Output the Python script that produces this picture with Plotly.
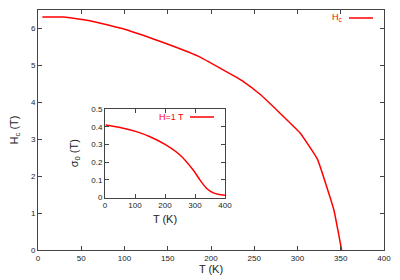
import plotly.graph_objects as go

# Main curve: critical field Hc vs T
T_main = [5, 30, 60, 100, 140, 185, 237, 257, 303, 323, 342, 351]
Hc = [6.31, 6.31, 6.21, 5.98, 5.66, 5.25, 4.57, 4.21, 3.17, 2.46, 1.09, 0.0]

# Inset: sigma_0 vs T at H = 1 T
T_in = [2, 50, 105, 150, 200, 250, 294, 317, 339, 361, 380, 400]
sig = [0.41, 0.396, 0.372, 0.343, 0.30, 0.24, 0.155, 0.098, 0.051, 0.026, 0.017, 0.013]

main_ticks_x = [0, 50, 100, 150, 200, 250, 300, 350, 400]
main_ticks_y = [0, 1, 2, 3, 4, 5, 6]
inset_ticks_x = [0, 100, 200, 300, 400]
inset_ticks_y = [0, 0.1, 0.2, 0.3, 0.4, 0.5]
inset_ticks_y_text = ["0", "0.1", "0.2", "0.3", "0.4", "0.5"]

RED = "#ff0000"
AX = "#444444"
FONT = "Liberation Sans"

fig = go.Figure()
fig.add_trace(go.Scatter(x=T_main, y=Hc, mode="lines", line=dict(color=RED, width=1.5, shape="spline", smoothing=0.3),
                         xaxis="x", yaxis="y", showlegend=False))
fig.add_trace(go.Scatter(x=T_in, y=sig, mode="lines", line=dict(color=RED, width=1.5, shape="spline", smoothing=0.8),
                         xaxis="x2", yaxis="y2", showlegend=False))

axcommon = dict(showline=True, linecolor=AX, linewidth=1, mirror="allticks", ticks="inside",
                ticklen=4, tickcolor=AX, showgrid=False, zeroline=False, automargin=False,
                tickfont=dict(family=FONT, size=8, color="#222222"))

# page body has an 8px margin: compensate
OFF = 8
x0, x1 = 38, 384
y0, y1 = 250, 10
W, H = 400 - OFF, 280 - OFF
ml, mr, mt, mb = x0 - OFF, 400 - x1, y1 - OFF, 280 - y0
pw, ph = x1 - x0, y0 - y1

ix0, ix1, iy_top, iy_bot = 105, 225, 109, 197.5
dx = [(ix0 - x0) / pw, (ix1 - x0) / pw]
dy = [(y0 - iy_bot) / ph, (y0 - iy_top) / ph]

fig.update_layout(
    width=W, height=H,
    margin=dict(l=ml, r=mr, t=mt, b=mb),
    paper_bgcolor="white", plot_bgcolor="white",
    font=dict(family=FONT, color="#222222"),
    xaxis=dict(range=[0, 400], tickvals=main_ticks_x,
               title=dict(text="T (K)", font=dict(size=11), standoff=3), **axcommon),
    yaxis=dict(range=[0, 6.5], tickvals=main_ticks_y,
               title=dict(text="H<sub>c</sub> (T)", font=dict(size=11), standoff=12), **axcommon),
    xaxis2=dict(domain=dx, anchor="y2", range=[0, 400], tickvals=inset_ticks_x,
                title=dict(text="T (K)", font=dict(size=11), standoff=6), **axcommon),
    yaxis2=dict(domain=dy, anchor="x2", range=[0, 0.5], tickvals=inset_ticks_y,
                ticktext=inset_ticks_y_text,
                title=dict(text="σ<sub>0</sub> (T)", font=dict(size=11), standoff=10), **axcommon),
    showlegend=False,
)

# gnuplot-style keys: text then line sample
fig.add_annotation(x=(344 - x0) / pw, y=(y0 - 18) / ph, xref="paper", yref="paper", xanchor="right",
                   yanchor="middle", text="H<sub>c</sub>", showarrow=False, font=dict(size=9, color=RED))
fig.add_shape(type="line", xref="paper", yref="paper", x0=(349 - x0) / pw, x1=(373 - x0) / pw,
              y0=(y0 - 18) / ph, y1=(y0 - 18) / ph, line=dict(color=RED, width=1.5))
fig.add_annotation(x=(186 - x0) / pw, y=(y0 - 117) / ph, xref="paper", yref="paper", xanchor="right",
                   yanchor="middle", text="H=1 T", showarrow=False, font=dict(size=9, color=RED))
fig.add_shape(type="line", xref="paper", yref="paper", x0=(190 - x0) / pw, x1=(214 - x0) / pw,
              y0=(y0 - 117) / ph, y1=(y0 - 117) / ph, line=dict(color=RED, width=1.5))

fig.write_html("out.html")
